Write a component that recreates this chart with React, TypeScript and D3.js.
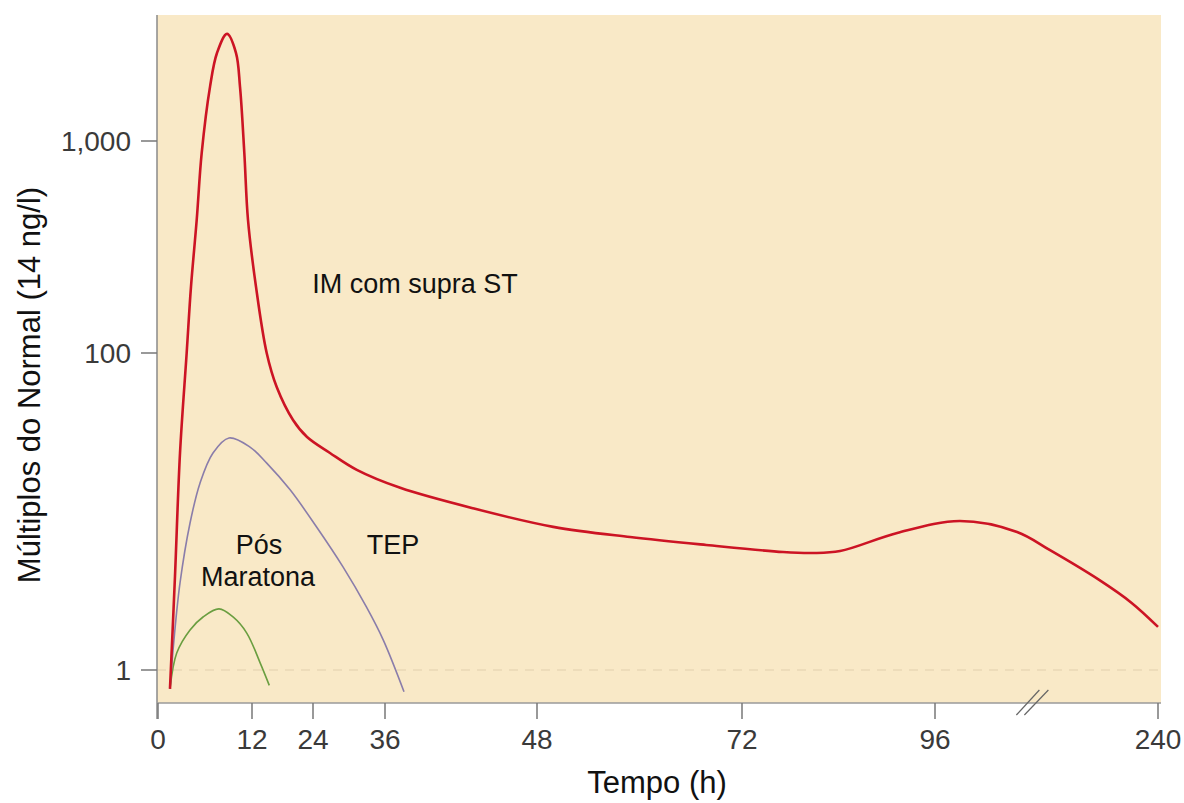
import React from "react";
import * as d3 from "d3";

// ---- data (time in hours, value in multiples of normal) ----
const xTicks = [0, 12, 24, 36, 48, 72, 96, 240];
const yTicks = [1, 100, 1000];

const stemiTime = [1.53, 2.17, 2.81, 3.66, 4.21, 4.94, 5.58, 6.64, 7.53, 8.81, 9.96, 10.47, 11.02, 11.49, 12.79, 14.89, 16.86, 20.07, 22.83, 26.83, 31.3, 37.2, 43.1, 49.9, 58.9, 67.8, 77.1, 80.8, 84.2, 91.3, 112, 149, 170, 202, 223, 240];
const stemiValue = [0.76, 3.92, 23.4, 100, 205, 424, 878, 1800, 2600, 3200, 2600, 1800, 878, 424, 205, 100, 61, 37.8, 29.5, 23.4, 18.3, 14.1, 10.4, 8.0, 6.9, 6.15, 5.55, 5.47, 5.63, 7.32, 8.71, 7.43, 5.72, 3.7, 2.65, 1.87];

const tepTime = [1.53, 2.04, 2.81, 4.09, 5.36, 7.02, 9.06, 11.75, 14.9, 19.5, 24.6, 29, 32.9, 35.7, 37.5];
const tepValue = [0.76, 1.55, 3.54, 8.46, 15.1, 23.4, 29.1, 25.5, 20.2, 13.7, 7.98, 4.47, 2.5, 1.55, 0.73];

const maraTime = [1.53, 2.39, 4.09, 5.75, 7.79, 9.58, 11.33, 13.6, 15.4];
const maraValue = [0.76, 1.28, 1.79, 2.16, 2.43, 2.16, 1.71, 1.11, 0.8];

const labels = {
  xTitle: "Tempo (h)",
  yTitle: "Múltiplos do Normal (14 ng/l)",
  stemi: "IM com supra ST",
  tep: "TEP",
  mara1: "Pós",
  mara2: "Maratona",
};

const W = 1184;
const H = 803;
const plot = { left: 157, right: 1161, top: 15, bottom: 703 };

const FONT = "'Liberation Sans', Arial, Helvetica, sans-serif";

export default function App() {
  const x = d3
    .scaleLinear()
    .domain(xTicks)
    .range([158, 252, 313, 385, 537, 742, 935, 1158]);
  const y = d3.scaleLog().domain(yTicks).range([670, 353, 141]);

  const line = d3
    .line<[number, number]>()
    .x((d) => x(d[0]))
    .y((d) => y(d[1]))
    .curve(d3.curveCatmullRom.alpha(0.5));

  const zip = (a: number[], b: number[]) => a.map((t, i) => [t, b[i]] as [number, number]);
  const fmt = d3.format(",");

  const breakX = x(155);

  return (
    <svg
      width={W}
      height={H}
      style={{ position: "absolute", left: 0, top: 0, background: "#fff" }}
      fontFamily={FONT}
    >
      <rect
        x={plot.left}
        y={plot.top}
        width={plot.right - plot.left}
        height={plot.bottom - plot.top}
        fill="#f9e9c7"
      />
      {/* reference dashed line at 1 */}
      <line
        x1={plot.left}
        x2={plot.right}
        y1={y(1)}
        y2={y(1)}
        stroke="#e2cfae"
        strokeWidth={1.2}
        strokeDasharray="9 7"
      />
      {/* axes */}
      <line x1={plot.left} x2={plot.left} y1={plot.top} y2={719} stroke="#8a8a8a" strokeWidth={1.5} />
      <line x1={plot.left} x2={plot.right} y1={plot.bottom} y2={plot.bottom} stroke="#9a9a9a" strokeWidth={1.5} />
      {xTicks.map((t) => (
        <g key={"xt" + t}>
          <line x1={x(t)} x2={x(t)} y1={plot.bottom} y2={719} stroke="#777" strokeWidth={1.5} />
          <text x={x(t)} y={749} textAnchor="middle" fontSize={28} fill="#3a3a3a">
            {t}
          </text>
        </g>
      ))}
      {yTicks.map((t) => (
        <g key={"yt" + t}>
          <line x1={141} x2={plot.left} y1={y(t)} y2={y(t)} stroke="#777" strokeWidth={1.5} />
          <text x={131} y={y(t)} dy="0.35em" textAnchor="end" fontSize={28} fill="#3a3a3a">
            {fmt(t)}
          </text>
        </g>
      ))}
      {/* axis break */}
      <line x1={breakX - 10} y1={715} x2={breakX + 13} y2={690} stroke="#666" strokeWidth={1.2} />
      <line x1={breakX - 2} y1={715} x2={breakX + 22} y2={690} stroke="#666" strokeWidth={1.2} />

      {/* curves */}
      <path d={line(zip(maraTime, maraValue)) || ""} fill="none" stroke="#6a9e40" strokeWidth={1.6} />
      <path d={line(zip(tepTime, tepValue)) || ""} fill="none" stroke="#8a7daa" strokeWidth={1.6} />
      <path d={line(zip(stemiTime, stemiValue)) || ""} fill="none" stroke="#cc1424" strokeWidth={2.6} />

      {/* annotations */}
      <text x={415} y={293} textAnchor="middle" fontSize={27} fill="#111">
        {labels.stemi}
      </text>
      <text x={259} y={554} textAnchor="middle" fontSize={27} fill="#111">
        {labels.mara1}
      </text>
      <text x={258} y={586} textAnchor="middle" fontSize={27} fill="#111">
        {labels.mara2}
      </text>
      <text x={393} y={554} textAnchor="middle" fontSize={27} fill="#111">
        {labels.tep}
      </text>

      {/* titles */}
      <text x={657} y={793} textAnchor="middle" fontSize={31} fill="#111">
        {labels.xTitle}
      </text>
      <text
        transform={`translate(40, 385) rotate(-90)`}
        textAnchor="middle"
        fontSize={31}
        fill="#111"
      >
        {labels.yTitle}
      </text>
    </svg>
  );
}
